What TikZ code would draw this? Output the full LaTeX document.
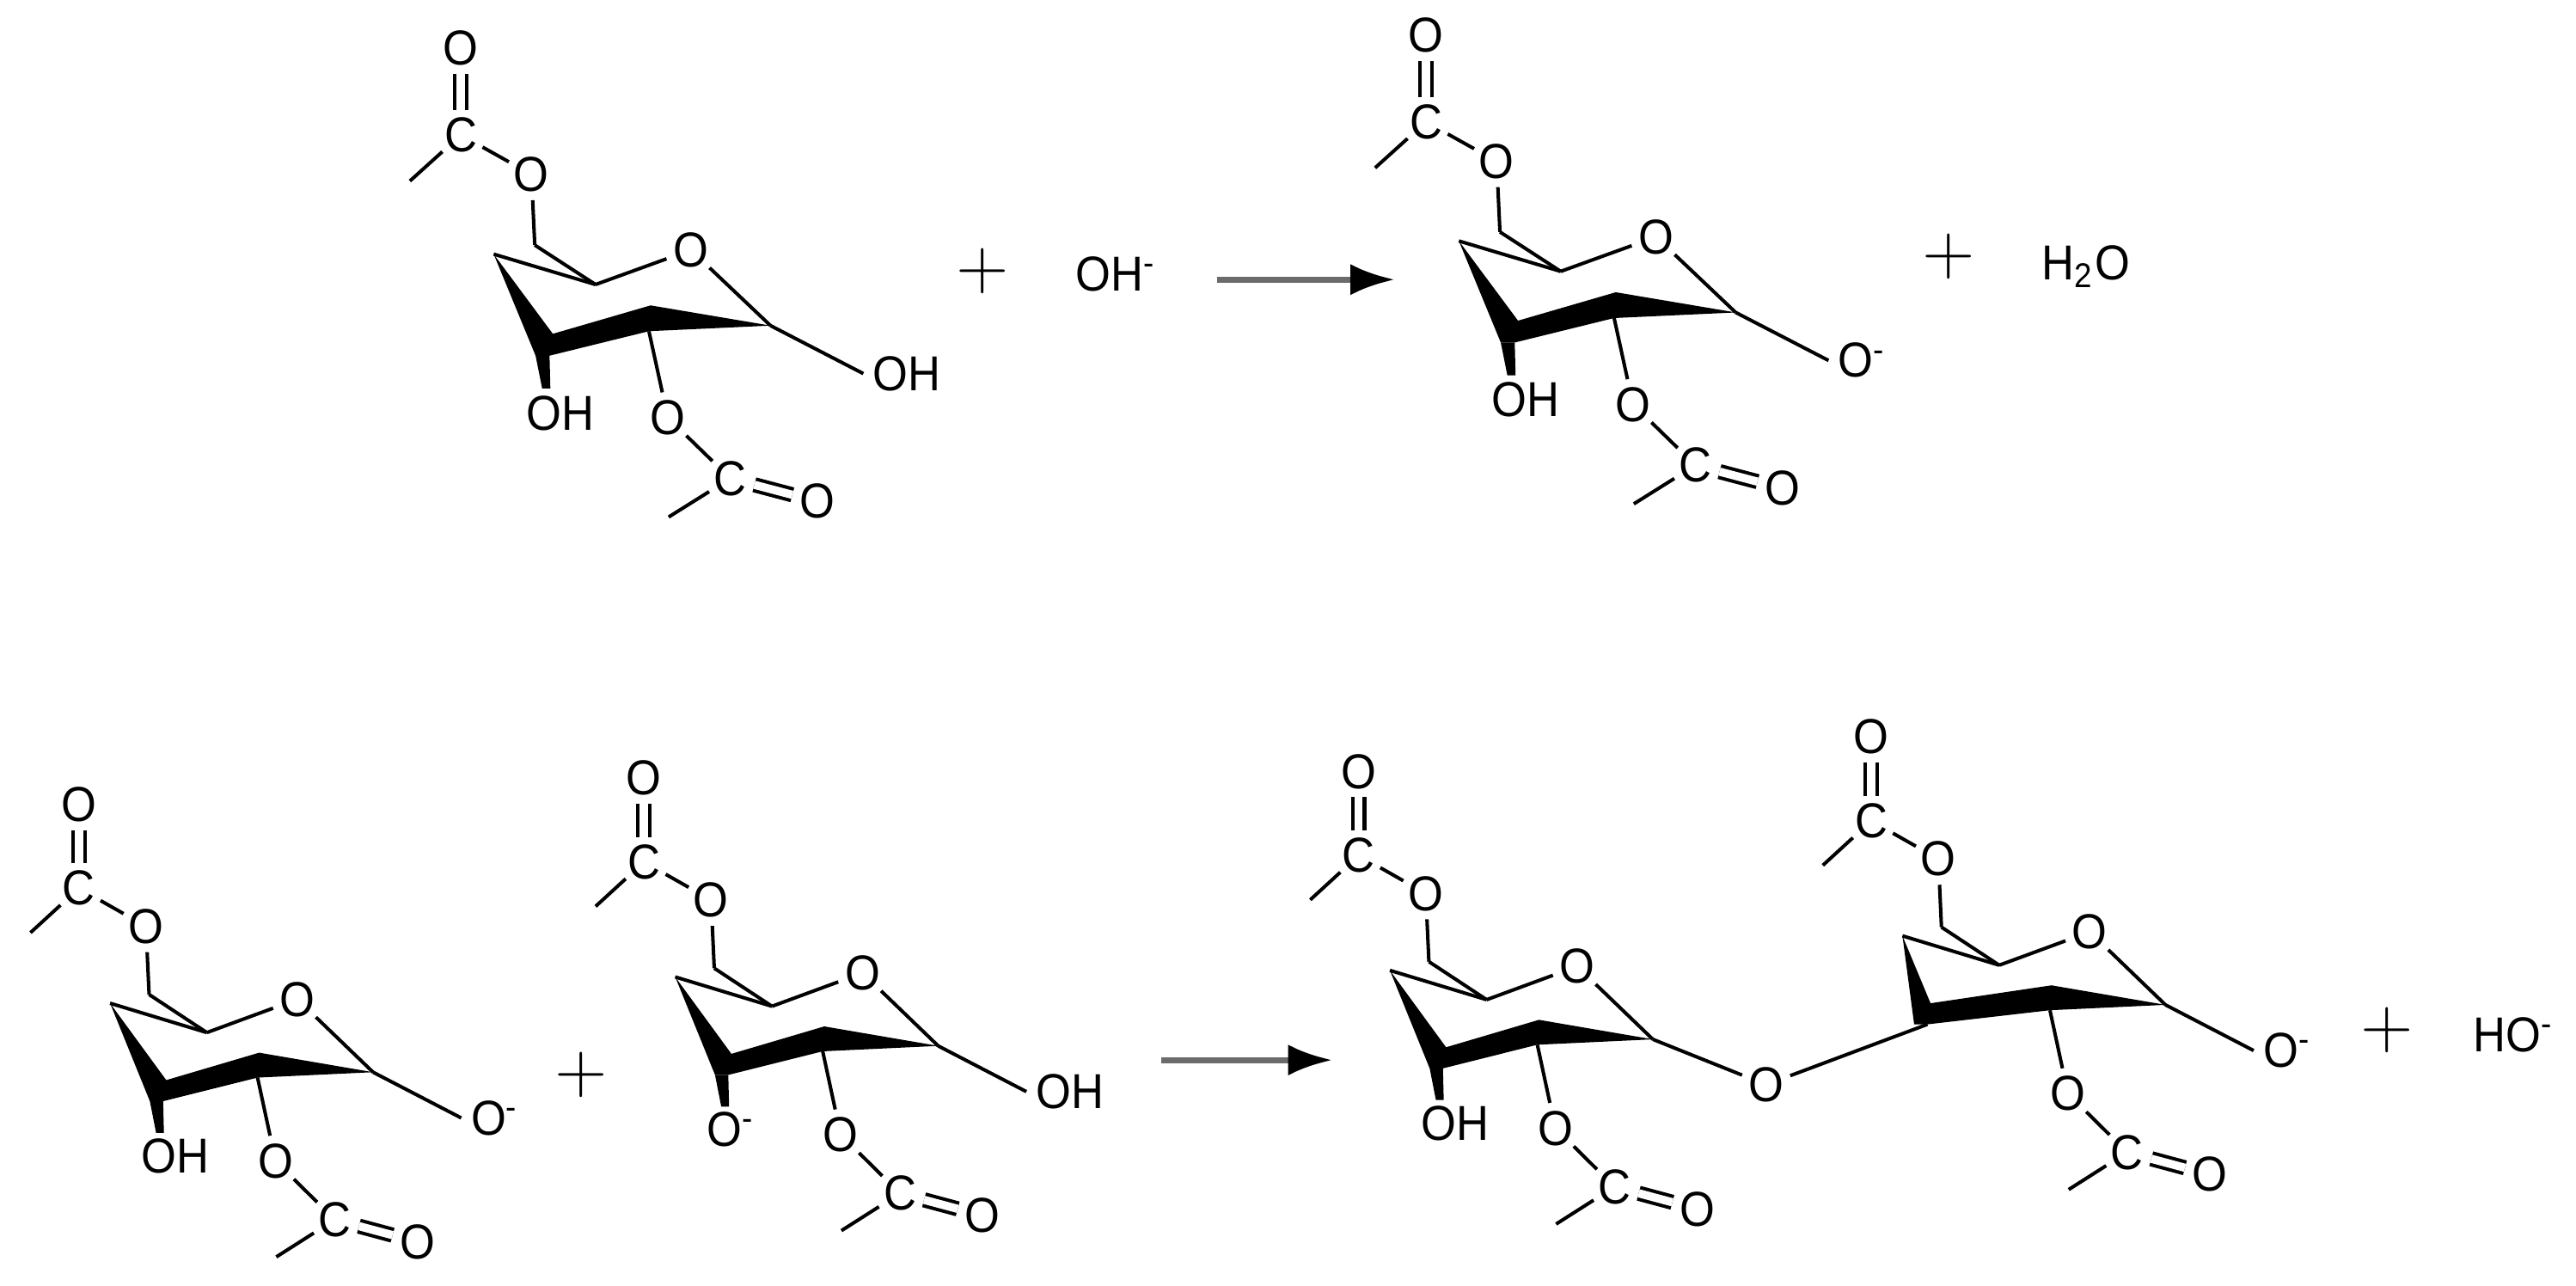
\documentclass[tikz,border=0pt]{standalone}
\usepackage{amssymb}
\usepackage{amsmath}
\usepackage{fontspec}
\setmainfont[FakeStretch=.92]{Liberation Sans}
\usetikzlibrary{arrows.meta}
\tikzset{
atom/.style={circle,inner sep=0,minimum size=.28cm,font=\fontsize{8.5}{10}\selectfont},
lbl/.style={anchor=base west,inner sep=1.5pt,font=\fontsize{8.5}{10}\selectfont},
bond/.style={line width=.6pt},
dblbond/.style={line width=.6pt,double,double distance=.05cm},
plus/.style={inner sep=0,font=\fontsize{12.7}{14}\selectfont},
rxnarrow/.style={line width=1.05pt,color=black!58,-{Latex[length=.27cm,width=.19cm,black]}},
toprow/.style={xscale=1},
lowrow/.style={xscale=.95,yscale=.965}
}
\newcommand{\sugar}[4]{
\begin{scope}[shift={(#2)},#3]
\node[atom] (#1o) at (0,0) {O};
\node[atom] (#1otop) at (-1.40,1.23) {O};
\node[atom] (#1ctop) at (-1.40,.70) {C};
\node[atom] (#1osix) at (-.97,.46) {O};
\node[atom] (#1otwo) at (-.14,-1.02) {O};
\node[atom] (#1cest) at (.24,-1.39) {C};
\node[atom] (#1oest) at (.77,-1.53) {O};
\coordinate (#1metop) at (-1.71,.42);
\coordinate (#1meest) at (-.135,-1.625);
\coordinate (#1csix) at (-.95,.03);
\coordinate (#1cfour) at (-1.20,-.025);
\coordinate (#1cfive) at (-.58,-.21);
\coordinate (#1cone) at (.485,-.46);
\coordinate (#1ctwot) at (-.245,-.337);
\coordinate (#1ctwob) at (-.255,-.494);
\begin{scope}[shift={(#4)}]
\coordinate (#1cthreet) at (-.84,-.51);
\coordinate (#1cthreeb) at (-.86,-.643);
\coordinate (#1cthreel) at (-.945,-.643);
\end{scope}
\coordinate (#1tipl) at (-.905,-.843);
\coordinate (#1tipr) at (-.855,-.843);
\coordinate (#1right) at (1.05,-.855);
\coordinate (#1below) at (-1.06,-1.095);
\end{scope}
\fill (#1cfour) -- (#1cthreet) -- (#1ctwot) -- (#1cone) -- (#1ctwob) -- (#1cthreeb) -- (#1cthreel) -- cycle;
\draw[dblbond] (#1ctop) -- (#1otop);
\draw[dblbond] (#1cest) -- (#1oest);
\draw[bond] (#1ctop) -- (#1metop);
\draw[bond] (#1ctop) -- (#1osix);
\draw[bond] (#1osix) -- (#1csix);
\draw[bond] (#1csix) -- (#1cfive);
\draw[bond] (#1cfour) -- (#1cfive);
\draw[bond] (#1cfive) -- (#1o);
\draw[bond] (#1o) -- (#1cone);
\draw[bond] (#1ctwob) -- (#1otwo);
\draw[bond] (#1otwo) -- (#1cest);
\draw[bond] (#1cest) -- (#1meest);
}
\newcommand{\tail}[2]{
\fill (#1cthreel) -- (#1tipl) -- (#1tipr) -- (#1cthreeb) -- cycle;
\node[lbl] (#1lblb) at (#1below) {#2};
}
\newcommand{\rightlbl}[2]{
\node[lbl] (#1lblr) at (#1right) {#2};
\draw[bond] (#1cone) -- (#1lblr.west);
}

\begin{document}
\begin{tikzpicture}
\useasboundingbox (0,0) rectangle (15.68,7.8217);

\sugar{ma}{4.205,6.30}{toprow}{0,0}
\tail{ma}{OH}
\rightlbl{ma}{OH}
\node[plus] (pa) at (5.98,6.17) {$+$};
\node[lbl,inner sep=0] (hyd) at (6.54,6.05) {OH\textsuperscript{-}};
\coordinate (aas) at (7.41,6.12);
\coordinate (aae) at (8.49,6.12);
\draw[rxnarrow] (aas) -- (aae);
\sugar{mb}{10.08,6.38}{toprow}{0,0}
\tail{mb}{OH}
\rightlbl{mb}{O\textsuperscript{-}}
\node[plus] (pb) at (11.86,6.26) {$+$};
\node[lbl,inner sep=0] (wat) at (12.42,6.12) {H\textsubscript{2}O};

\sugar{mc}{1.81,1.74}{lowrow}{0,0}
\tail{mc}{OH}
\rightlbl{mc}{O\textsuperscript{-}}
\node[plus] (pc) at (3.54,1.28) {$+$};
\sugar{md}{5.25,1.90}{lowrow}{0,0}
\tail{md}{O\textsuperscript{-}}
\rightlbl{md}{OH}
\coordinate (abs) at (7.07,1.37);
\coordinate (abe) at (8.11,1.37);
\draw[rxnarrow] (abs) -- (abe);
\sugar{me}{9.60,1.94}{lowrow}{0,0}
\tail{me}{OH}
\sugar{mf}{12.72,2.15}{lowrow}{-.18,.06}
\rightlbl{mf}{O\textsuperscript{-}}
\node[atom] (obr) at (10.75,1.22) {O};
\draw[bond] (mecone) -- (obr);
\draw[bond] (obr) -- (mfcthreeb);
\node[plus] (pd) at (14.53,1.55) {$+$};
\node[lbl,inner sep=0] (hox) at (15.05,1.42) {HO\textsuperscript{-}};
\end{tikzpicture}
\end{document}
